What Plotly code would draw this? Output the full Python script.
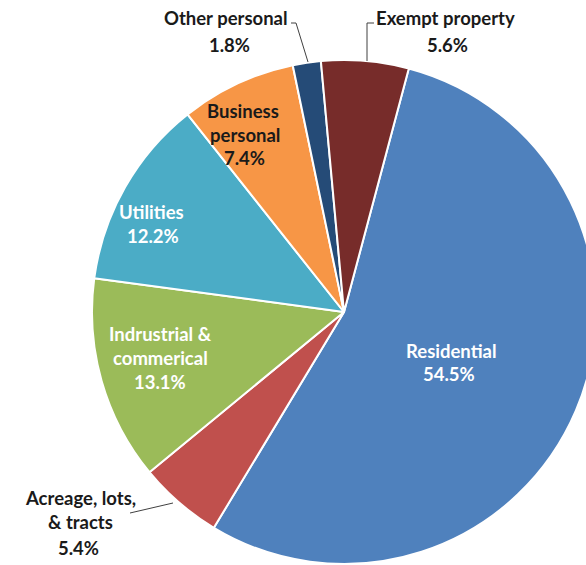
import plotly.graph_objects as go

categories = ["Residential", "Acreage, lots, & tracts", "Indrustrial & commerical",
              "Utilities", "Business personal", "Other personal", "Exempt property"]
values = [54.5, 5.4, 13.1, 12.2, 7.4, 1.8, 5.6]
colors = ["#4F81BD", "#C0504D", "#9BBB59", "#4BACC6", "#F79646", "#254B77", "#772C2A"]

W, H = 600, 565
cx, cy, r = 344, 312, 252

fig = go.Figure(go.Pie(
    labels=categories, values=values, sort=False, direction="clockwise",
    rotation=14.9, textinfo="none", hoverinfo="label+percent",
    marker=dict(colors=colors, line=dict(color="white", width=2)),
    domain=dict(x=[(cx - r) / W, (cx + r) / W], y=[(H - cy - r) / H, (H - cy + r) / H]),
    showlegend=False,
))

# label lines: (text, x_px, y_px, color)
label_lines = [
    ("Other personal", 226, 18, "#1a1a1a"), ("1.8%", 229, 45, "#1a1a1a"),
    ("Exempt property", 445, 18, "#1a1a1a"), ("5.6%", 447, 45, "#1a1a1a"),
    ("Business", 243, 111, "#1a1a1a"), ("personal", 245, 135, "#1a1a1a"), ("7.4%", 244, 158, "#1a1a1a"),
    ("Utilities", 151, 212, "white"), ("12.2%", 153, 236, "white"),
    ("Indrustrial &", 160, 334, "white"), ("commerical", 160, 358, "white"), ("13.1%", 160, 382, "white"),
    ("Residential", 451, 351, "white"), ("54.5%", 449, 374, "white"),
    ("Acreage, lots,", 80, 498, "#1a1a1a"), ("& tracts", 80, 522, "#1a1a1a"), ("5.4%", 79, 548, "#1a1a1a"),
]
anns = []
for t, x, y, c in label_lines:
    anns.append(dict(text=f"<b>{t}</b>", x=x / W, y=1 - y / H, xref="paper", yref="paper",
                     showarrow=False, xanchor="center", yanchor="middle",
                     font=dict(family="Lato", size=18.5, color=c)))

def path(pts):
    s = "M " + " L ".join(f"{x / W},{1 - y / H}" for x, y in pts)
    return dict(type="path", path=s, xref="paper", yref="paper",
                line=dict(color="#404040", width=1))

shapes = [
    path([(291, 23), (296, 23), (308, 62)]),
    path([(367, 61), (367, 23), (374, 23)]),
    path([(130, 513), (173, 503)]),
]

fig.update_layout(width=W, height=H, margin=dict(l=0, r=0, t=0, b=0),
                  paper_bgcolor="white", plot_bgcolor="white",
                  annotations=anns, shapes=shapes)

fig.write_html("out.html", post_script="document.body.style.overflow='hidden';document.documentElement.style.overflow='hidden';document.body.style.margin='0';")
